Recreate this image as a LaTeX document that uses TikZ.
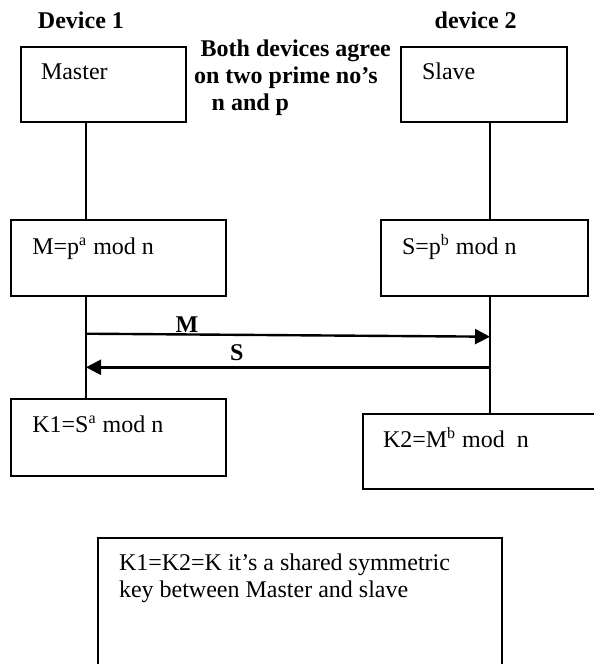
\documentclass[tikz,border=0pt]{standalone}
\usepackage{fontspec}
\setmainfont{Liberation Serif}
\usetikzlibrary{arrows.meta}
\begin{document}
\begin{tikzpicture}[x=0.5pt,y=-0.5pt,
  box/.style={draw, line width=1pt, rectangle, inner sep=0pt, outer sep=0pt, anchor=north west},
  txt/.style={inner sep=0pt, outer sep=0pt, anchor=base west, font=\fontsize{12}{13.8}\selectfont},
  btxt/.style={txt, font=\fontsize{12}{13.8}\selectfont\bfseries},
  life/.style={line width=1pt},
  msg/.style={line width=1.2pt, -{Triangle[length=7.5pt,width=7.5pt]}}]
\useasboundingbox (0,0) rectangle (594,664);

% headings
\node[btxt] (dev1) at (38,28.3) {Device 1};
\node[btxt] (dev2) at (434.7,28.3) {device 2};
\node[btxt] (agree1) at (200.7,56) {Both devices agree};
\node[btxt] (agree2) at (194,83.3) {on two prime no’s};
\node[btxt] (agree3) at (211.7,110.7) {n and p};

% boxes
\node[box, minimum width=82.5pt, minimum height=37.65pt] (master) at (20.7,46.7) {};
\node[box, minimum width=82.7pt, minimum height=37.65pt] (slave) at (401.3,46.7) {};
\node[box, minimum width=107.2pt, minimum height=38pt] (mbox) at (11.3,220.3) {};
\node[box, minimum width=103.5pt, minimum height=38pt] (sbox) at (381,220.3) {};
\node[box, minimum width=107.2pt, minimum height=38.2pt] (kone) at (11.3,399.3) {};
\node[box, minimum width=118pt, minimum height=37.65pt] (ktwo) at (362.7,414) {};
\node[box, minimum width=202pt, minimum height=70pt] (shared) at (98,537.5) {};

% box texts
\node[txt] (mastertxt) at (41,79) {Master};
\node[txt] (slavetxt) at (422,79) {Slave};
\node[txt] (mtxt) at (32.3,254.3) {M=p\textsuperscript{a} mod n};
\node[txt] (stxt) at (402,254.3) {S=p\textsuperscript{b} mod n};
\node[txt] (k1txt) at (32.3,432.7) {K1=S\textsuperscript{a} mod n};
\node[txt] (k2txt) at (383,447.3) {K2=M\textsuperscript{b} mod\ \ n};
\node[txt] (sh1) at (119,570.5) {K1=K2=K it’s a shared symmetric};
\node[txt] (sh2) at (119,597.2) {key between Master and slave};

% lifelines
\coordinate (LL) at (86,0);
\coordinate (RL) at (490,0);
\draw[life] (master.south -| LL) -- (mbox.north -| LL);
\draw[life] (mbox.south -| LL) -- (kone.north -| LL);
\draw[life] (slave.south -| RL) -- (sbox.north -| RL);
\draw[life] (sbox.south -| RL) -- (ktwo.north -| RL);

% messages
\coordinate (mstart) at (86,333.7);
\coordinate (mend) at (490,336.7);
\coordinate (sstart) at (490,367.3);
\coordinate (send) at (86,367.3);
\draw[msg] (mstart) -- (mend);
\draw[msg] (sstart) -- (send);
\node[btxt] (mlabel) at (175.7,332) {M};
\node[btxt] (slabel) at (230,360) {S};
\end{tikzpicture}
\end{document}
